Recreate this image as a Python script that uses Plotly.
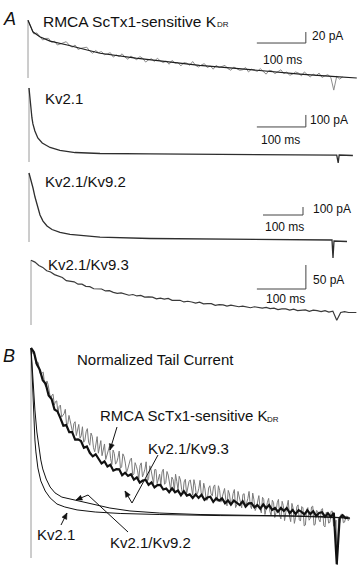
import math
import plotly.graph_objects as go

W, H = 360, 565
FONT = "Liberation Sans, Arial, Helvetica, sans-serif"

# ---------------- DATA ----------------
# Panel A1: RMCA ScTx1-sensitive KDR (pA vs ms)
A1_FIT_T = [0, 4, 10, 24, 45, 80, 147, 220, 284, 350, 418, 490, 555, 620, 671]
A1_FIT_I = [105, 95, 84, 75, 67, 60, 45, 36, 29, 23, 18, 12, 7, 3, 0]
A1_DT = 6  # ms between samples of the raw trace
A1_RAW = [105, 93, 80, 82, 76, 69, 72, 72, 65, 67,
          60, 62, 64, 66, 60, 56, 60, 52, 54, 55,
          56, 49, 45, 50, 46, 48, 42, 44, 46, 38,
          42, 39, 44, 38, 34, 40, 37, 33, 39, 36,
          29, 33, 35, 30, 36, 31, 28, 31, 25, 32,
          27, 28, 22, 28, 27, 23, 30, 23, 20, 24,
          26, 19, 22, 16, 23, 19, 21, 23, 17, 14,
          20, 17, 14, 15, 19, 11, 16, 14, 12, 17,
          12, 7, 14, 13, 8, 11, 15, 8, 11, 5,
          7, 11, 9, 4, 11, 6, 2, 7, 4, 9,
          1, 4, 6, 1, -22, 3, -2, 2]

# Panel A2: Kv2.1
A2_T = [0, 2, 4, 6, 8, 12, 18, 27, 43, 63, 94, 145, 247, 451, 628, 631, 633, 661]
A2_I = [617, 517, 433, 367, 317, 258, 200, 158, 121, 96, 79, 71, 67, 62, 58, -8, 58, 54]

# Panel A3: Kv2.1/Kv9.2
A3_T = [0, 5, 10, 15, 20, 27.5, 35, 45, 57.5, 77.5, 102.5, 140, 177.5, 302.5, 552.5,
        757.5, 760, 762.5, 795]
A3_I = [862, 775, 675, 562, 462, 338, 262, 200, 156, 119, 94, 75, 62, 44, 31,
        25, -200, 12.5, 6]

# Panel A4: Kv2.1/Kv9.3
A4_DT = 8
A4_RAW = [135, 131, 124, 120, 113, 110.5, 105, 102.5, 99, 92.5,
          92, 90, 85, 85, 80.5, 80, 75.5, 76, 75, 71,
          71.5, 68, 66, 67, 65, 62, 63.5, 60.5, 61.5, 58,
          58.5, 58, 54.5, 56, 54, 55.5, 51.5, 51.5, 51.5, 48,
          49.5, 48, 45.5, 47.5, 44, 44.5, 44.5, 41, 42.5, 42,
          39.5, 41.5, 39, 38, 39.5, 38.5, 36, 38, 36.5, 35,
          36.5, 34, 35, 32, 33.5, 33.5, 31, 33, 30, 31.5,
          31.5, 28.5, 31, 30, 28, 30, 27, 29, 10, 26,
          28, 26, 26.5, 26]

# Panel B: normalized tail currents
B_KV21_T = [0, 2, 4, 6, 8, 10, 14, 20, 29, 39, 53, 69, 94, 131, 182, 263, 386, 529, 651]
B_KV21_N = [1.0, 0.871, 0.752, 0.657, 0.562, 0.505, 0.429, 0.367, 0.319, 0.286, 0.257,
            0.243, 0.229, 0.219, 0.212, 0.207, 0.202, 0.2, 0.19]
B_KV92_T = [0, 2, 4, 8, 12, 16, 20, 24, 31, 39, 49, 63, 80, 94, 120, 161, 202, 263, 345,
            467, 590, 651]
B_KV92_N = [1.0, 0.919, 0.824, 0.705, 0.6, 0.524, 0.467, 0.424, 0.376, 0.338, 0.31, 0.29,
            0.281, 0.274, 0.262, 0.238, 0.224, 0.214, 0.207, 0.202, 0.198, 0.19]
B_RMCA_DT = 2.5
B_RMCA = [1.0, 0.975, 0.98, 0.967, 0.925, 0.933, 0.93, 0.883, 0.875, 0.883,
          0.885, 0.83, 0.815, 0.843, 0.825, 0.79, 0.757, 0.775, 0.78, 0.728,
          0.745, 0.748, 0.69, 0.722, 0.728, 0.671, 0.678, 0.687, 0.708, 0.636,
          0.638, 0.679, 0.653, 0.625, 0.596, 0.64, 0.649, 0.583, 0.607, 0.636,
          0.57, 0.582, 0.625, 0.551, 0.561, 0.601, 0.616, 0.552, 0.537, 0.595,
          0.579, 0.525, 0.506, 0.549, 0.578, 0.499, 0.53, 0.559, 0.487, 0.518,
          0.543, 0.469, 0.49, 0.521, 0.531, 0.473, 0.445, 0.514, 0.498, 0.447,
          0.456, 0.478, 0.509, 0.427, 0.434, 0.496, 0.483, 0.452, 0.407, 0.424,
          0.455, 0.468, 0.476, 0.394, 0.401, 0.454, 0.437, 0.415, 0.377, 0.44,
          0.453, 0.386, 0.403, 0.423, 0.458, 0.366, 0.378, 0.439, 0.419, 0.392,
          0.355, 0.421, 0.421, 0.354, 0.386, 0.399, 0.347, 0.41, 0.423, 0.351,
          0.359, 0.412, 0.395, 0.356, 0.326, 0.385, 0.373, 0.321, 0.399, 0.365,
          0.325, 0.389, 0.372, 0.325, 0.303, 0.362, 0.375, 0.305, 0.331, 0.364,
          0.372, 0.326, 0.299, 0.373, 0.346, 0.3, 0.308, 0.332, 0.37, 0.304,
          0.292, 0.356, 0.329, 0.276, 0.276, 0.333, 0.344, 0.305, 0.296, 0.34,
          0.348, 0.282, 0.27, 0.344, 0.322, 0.266, 0.289, 0.31, 0.331, 0.28,
          0.248, 0.322, 0.305, 0.259, 0.268, 0.307, 0.326, 0.24, 0.253, 0.317,
          0.286, 0.27, 0.239, 0.303, 0.306, 0.24, 0.259, 0.283, 0.317, 0.251,
          0.235, 0.309, 0.277, 0.226, 0.24, 0.279, 0.297, 0.236, 0.215, 0.289,
          0.278, 0.207, 0.246, 0.265, 0.284, 0.223, 0.201, 0.275, 0.264, 0.193,
          0.216, 0.263, 0.279, 0.203, 0.186, 0.27, 0.249, 0.178, 0.217, 0.241,
          0.275, 0.199, 0.173, 0.26, 0.236, 0.165, 0.194, 0.244, 0.253, 0.182,
          0.176, 0.245, 0.239, 0.153, 0.157, 0.231, 0.24, 0.18, 0.189, 0.243,
          0.247, 0.156, 0.16, 0.226, 0.223, 0.183, 0.172, 0.231, 0.235, 0.154,
          0.148, 0.218, 0.212, 0.166, 0.17, 0.222, 0.223, 0.152, 0.151, 0.18,
          -0.04, 0.187, 0.166, 0.207, 0.209, 0.168, 0.171, 0.198, 0.199, 0.178,
          0.187]
B_KV93_DT = 6
B_KV93 = [1.0, 0.98, 0.922, 0.896, 0.847, 0.83, 0.774, 0.757, 0.707, 0.698,
          0.666, 0.63, 0.633, 0.599, 0.599, 0.564, 0.565, 0.557, 0.525, 0.531,
          0.501, 0.484, 0.494, 0.474, 0.45, 0.46, 0.436, 0.444, 0.416, 0.423,
          0.422, 0.394, 0.406, 0.391, 0.399, 0.373, 0.384, 0.359, 0.369, 0.372,
          0.348, 0.36, 0.336, 0.347, 0.348, 0.326, 0.331, 0.313, 0.332, 0.313,
          0.321, 0.299, 0.318, 0.297, 0.303, 0.286, 0.303, 0.286, 0.301, 0.277,
          0.288, 0.292, 0.267, 0.284, 0.273, 0.284, 0.261, 0.274, 0.254, 0.273,
          0.264, 0.252, 0.27, 0.245, 0.26, 0.261, 0.241, 0.252, 0.235, 0.255,
          0.237, 0.252, 0.229, 0.238, 0.22, 0.238, 0.224, 0.238, 0.214, 0.229,
          0.209, 0.228, 0.22, 0.208, 0.227, 0.209, 0.223, 0.2, 0.214, 0.218,
          0.197, 0.213, 0.196, 0.215, -0.03, 0.192, 0.204, 0.19, 0.192]

# ---------------- LAYOUT HELPERS ----------------
# each panel: pixel x of t=0, px per ms, pixel y of zero, px per unit
PANELS = {
    "":  dict(x0=28, sx=0.49, y0=78, sy=0.55),    # A1
    "2": dict(x0=29, sx=0.49, y0=162, sy=0.12),   # A2
    "3": dict(x0=29, sx=0.40, y0=242, sy=0.08),   # A3
    "4": dict(x0=31, sx=0.49, y0=325, sy=0.48),   # A4
    "5": dict(x0=31, sx=0.49, y0=558, sy=210.0),  # B
}


def px(x):
    return x / W


def py(y):
    return 1 - y / H


fig = go.Figure()
for k, p in PANELS.items():
    fig.update_layout(**{
        "xaxis" + k: dict(domain=[0, 1], range=[-p["x0"] / p["sx"], (W - p["x0"]) / p["sx"]],
                          visible=False, fixedrange=True, anchor="y" + k),
        "yaxis" + k: dict(domain=[0, 1], range=[(p["y0"] - H) / p["sy"], p["y0"] / p["sy"]],
                          visible=False, fixedrange=True, anchor="x" + k),
    })


def trace(x, y, k, color, width):
    fig.add_trace(go.Scatter(x=x, y=y, mode="lines", xaxis="x" + k, yaxis="y" + k,
                             line=dict(color=color, width=width), hoverinfo="skip",
                             showlegend=False))


GRAY_V = "#9a9a9a"

# A1
trace([A1_FIT_T[0], A1_FIT_T[0]], [0, A1_FIT_I[0]], "", GRAY_V, 1)
trace([i * A1_DT for i in range(len(A1_RAW))], A1_RAW, "", "#8c8c8c", 1)
trace(A1_FIT_T, A1_FIT_I, "", "#1e1e1e", 1.2)
# A2
trace([A2_T[0], A2_T[0]], [0, A2_I[0]], "2", GRAY_V, 1)
trace(A2_T, A2_I, "2", "#2e2e2e", 1.3)
# A3
trace([A3_T[0], A3_T[0]], [0, A3_I[0]], "3", GRAY_V, 1)
trace(A3_T, A3_I, "3", "#2e2e2e", 1.3)
# A4
trace([0, 0], [0, A4_RAW[0]], "4", GRAY_V, 1)
trace([i * A4_DT for i in range(len(A4_RAW))], A4_RAW, "4", "#3a3a3a", 1.2)
# B
trace([0, 0], [0, 1.0], "5", GRAY_V, 1)
trace([i * B_RMCA_DT for i in range(len(B_RMCA))], B_RMCA, "5", "#7a7a7a", 1)
trace([i * B_KV93_DT for i in range(len(B_KV93))], B_KV93, "5", "#111111", 2.2)
trace(B_KV92_T, B_KV92_N, "5", "#111111", 1)
trace(B_KV21_T, B_KV21_N, "5", "#111111", 1)

# scale bars (corner time, corner value, time length, value length)
BARS = {"": (567, 63.6, 100, 20), "2": (565, 292, 100, 100),
        "3": (685, 337.5, 100, 100), "4": (561, 75, 100, 50)}
for k, (tc, ic, tl, il) in BARS.items():
    for (xa, ya, xb, yb) in [(tc - tl, ic, tc, ic), (tc, ic, tc, ic + il)]:
        fig.add_shape(type="line", xref="x" + k, yref="y" + k, x0=xa, y0=ya, x1=xb, y1=yb,
                      line=dict(color="#444", width=1))


def label(text, x, y, size=15, anchor="left", italic=False):
    if italic:
        text = "<i>" + text + "</i>"
    fig.add_annotation(text=text, x=px(x), y=py(y), xref="paper", yref="paper",
                       xanchor=anchor, yanchor="middle", showarrow=False, borderpad=0,
                       font=dict(family=FONT, size=size, color="#111"))


label("A", 2, 19, 18, italic=True)
label("RMCA ScTx1-sensitive K", 42, 21, 15.5)
label("DR", 216, 25, 8)
label("20 pA", 311, 36, 12)
label("100 ms", 262, 60, 12)
label("Kv2.1", 44, 98, 15)
label("100 pA", 309, 120, 12)
label("100 ms", 260, 140, 12)
label("Kv2.1/Kv9.2", 44, 182, 15)
label("100 pA", 312, 209, 12)
label("100 ms", 264, 227, 12)
label("Kv2.1/Kv9.3", 47, 264, 15)
label("50 pA", 312, 280, 12)
label("100 ms", 265, 299, 12)

label("B", 2, 356, 18, italic=True)
label("Normalized Tail Current", 76, 359, 15)
label("RMCA ScTx1-sensitive K", 99, 415, 15)
label("DR", 266, 419, 8)
label("Kv2.1/Kv9.3", 147, 449, 15)
label("Kv2.1", 36, 534, 15)
label("Kv2.1/Kv9.2", 109, 542, 15)

# pointer lines in panel B (pixel positions): straight segments
for (xa, ya, xb, yb) in [(158, 455, 132, 503), (128, 532, 88, 495),
                         (117, 427, 110, 450), (132, 503, 125, 491),
                         (88, 495, 76, 500), (61, 525, 67, 513)]:
    fig.add_shape(type="line", xref="paper", yref="paper", x0=px(xa), y0=py(ya),
                  x1=px(xb), y1=py(yb), line=dict(color="#111", width=1))

# arrow heads: small filled triangles at the tips (tip, point on the shaft)
for (tx, ty, sx_, sy_) in [(110, 450, 117, 427), (125, 491, 132, 503),
                           (76, 500, 88, 495), (67, 513, 61, 525)]:
    dx, dy = sx_ - tx, sy_ - ty
    L = math.hypot(dx, dy)
    ux, uy = dx / L, dy / L
    hl, hw = 6.0, 2.6
    bx, by = tx + ux * hl, ty + uy * hl
    p1 = (bx - uy * hw, by + ux * hw)
    p2 = (bx + uy * hw, by - ux * hw)
    path = "M {} {} L {} {} L {} {} Z".format(px(tx), py(ty), px(p1[0]), py(p1[1]),
                                             px(p2[0]), py(p2[1]))
    fig.add_shape(type="path", xref="paper", yref="paper", path=path,
                  fillcolor="#111", line=dict(color="#111", width=0.5))

fig.update_layout(width=W, height=H, margin=dict(l=0, r=0, t=0, b=0), autosize=False,
                  paper_bgcolor="white", plot_bgcolor="rgba(0,0,0,0)", showlegend=False)

fig.write_html("out.html", config={"displayModeBar": False, "staticPlot": True},
               post_script="document.body.style.margin='0';document.body.style.padding='0';")
